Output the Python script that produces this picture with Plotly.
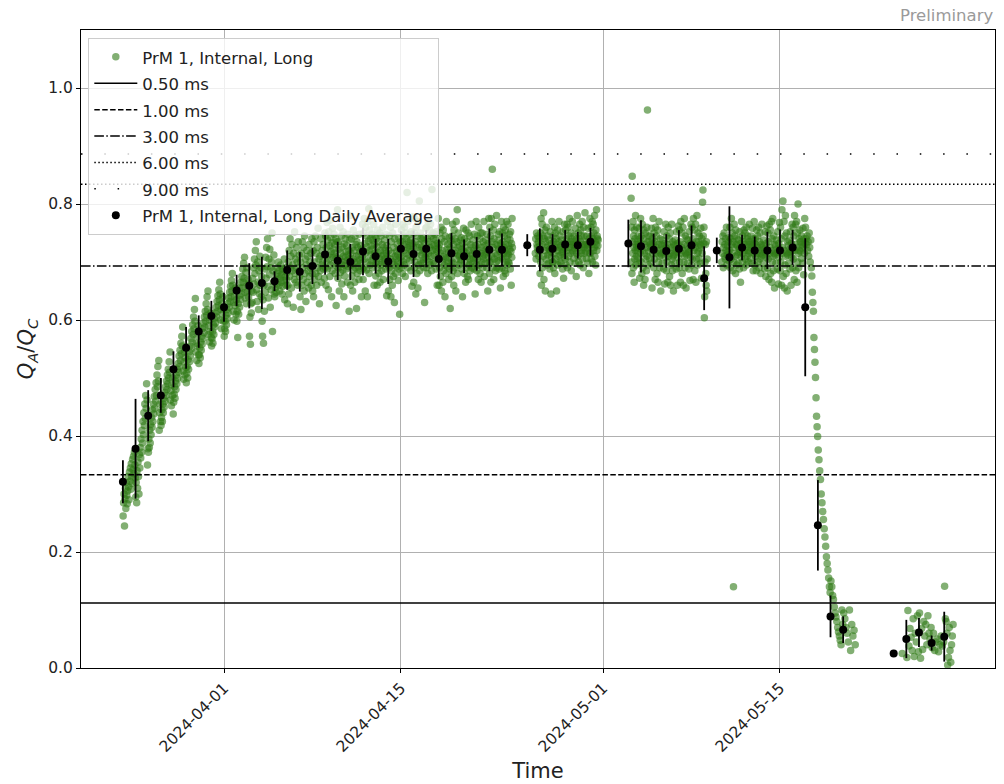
import pandas as pd
import plotly.graph_objects as go

# ---------------- data ----------------
REF_DATE = "2024-04-01"   # day offsets below are counted from this date

# green single measurements, grouped by day (values x1000), in time order within each day
green_days = [-8, -7, -6, -5, -4, -3, -2, -1, 0, 1, 2, 3, 4, 5, 6, 7, 8, 9, 10, 11, 12, 13, 14, 15,
              16, 17, 18, 19, 20, 21, 22, 24, 25, 26, 27, 28, 29, 32, 33, 34, 35, 36, 37, 38,
              39, 40, 41, 42, 43, 44, 45, 46, 47, 48, 49, 53, 54, 55, 56, 57]
green_vals_milli = [
    [262, 285, 300, 245, 292, 310, 275, 320, 298, 283, 305, 330, 312, 290, 338, 322, 345, 308, 352, 330, 318, 360, 342, 365, 335, 372, 350, 328],
    [295, 320, 285, 340, 310, 355, 330, 300, 368, 345, 380, 362, 395, 372, 410, 388, 425, 402, 440, 418, 455, 430, 470, 448, 490, 462, 350, 378],
    [372, 395, 380, 410, 388, 420, 402, 432, 415, 445, 425, 455, 438, 468, 448, 480, 460, 492, 470, 505, 485, 520, 495, 530, 410, 440, 455, 425],
    [418, 432, 445, 425, 455, 440, 465, 450, 475, 460, 485, 470, 495, 480, 505, 490, 515, 500, 528, 510, 545, 462, 478, 452, 488, 470, 500, 438],
    [458, 472, 485, 465, 495, 480, 505, 490, 515, 500, 525, 510, 538, 520, 548, 530, 560, 542, 572, 555, 588, 512, 498, 528, 545, 505, 535, 518],
    [492, 508, 520, 500, 532, 515, 545, 528, 555, 538, 568, 550, 580, 562, 592, 575, 605, 585, 618, 598, 637, 545, 560, 530, 572, 555, 590, 540],
    [525, 540, 552, 535, 562, 548, 572, 558, 585, 568, 595, 578, 605, 588, 615, 598, 628, 608, 640, 618, 650, 575, 590, 562, 600, 580, 612, 570],
    [555, 568, 580, 560, 592, 575, 602, 588, 612, 595, 622, 605, 632, 615, 642, 625, 652, 635, 665, 645, 600, 618, 585, 628, 610, 640, 598, 620],
    [572, 585, 598, 580, 608, 592, 618, 602, 628, 612, 638, 622, 648, 632, 658, 640, 668, 650, 680, 660, 615, 630, 600, 642, 625, 655, 610, 635],
    [598, 615, 570, 628, 610, 642, 622, 655, 635, 665, 645, 675, 655, 688, 665, 698, 672, 708, 648, 638, 682, 628, 690, 660, 650, 670, 640, 662],
    [572, 605, 558, 628, 612, 650, 630, 672, 648, 690, 662, 705, 680, 720, 695, 735, 652, 632, 700, 665, 618, 685, 645, 710, 660, 690, 640, 675],
    [598, 572, 635, 560, 660, 615, 688, 648, 708, 672, 725, 692, 740, 658, 638, 705, 678, 722, 622, 690, 652, 700, 750, 580, 685, 665, 712, 645],
    [640, 655, 670, 648, 680, 662, 690, 675, 700, 660, 685, 650, 672, 695, 665, 678, 645, 688, 658, 683, 668, 705, 635, 675, 690, 660, 670, 682],
    [628, 660, 700, 645, 720, 675, 740, 690, 710, 655, 730, 685, 695, 622, 715, 670, 752, 680, 705, 665, 725, 690, 700, 660, 735, 685, 712, 675],
    [640, 700, 618, 715, 660, 735, 690, 670, 725, 650, 745, 680, 705, 632, 695, 720, 665, 710, 685, 655, 730, 675, 700, 690, 715, 660, 740, 680],
    [650, 720, 640, 735, 670, 700, 745, 680, 715, 660, 725, 690, 758, 675, 705, 628, 710, 685, 740, 665, 695, 720, 700, 730, 688, 712, 672, 750],
    [690, 745, 660, 725, 700, 768, 688, 738, 712, 652, 752, 705, 728, 675, 772, 695, 742, 718, 640, 733, 685, 758, 708, 722, 698, 748, 715, 730, 680, 710, 740, 625, 705, 735, 692, 790],
    [672, 735, 690, 722, 650, 705, 760, 682, 715, 696, 745, 662, 726, 700, 686, 752, 710, 640, 731, 676, 695, 740, 708, 718, 688, 728, 702, 665, 748, 712, 692, 720, 615, 705, 738, 780],
    [660, 715, 695, 740, 676, 725, 650, 705, 755, 686, 720, 700, 665, 745, 690, 730, 710, 620, 735, 680, 700, 725, 692, 712, 670, 748, 704, 718, 685, 728, 698, 640, 722, 708, 765, 688],
    [670, 750, 690, 775, 705, 732, 650, 760, 716, 686, 745, 726, 640, 770, 700, 736, 792, 680, 720, 755, 695, 740, 712, 728, 702, 748, 722, 690, 738, 708, 765, 660, 730, 715, 745, 698],
    [676, 740, 700, 726, 660, 755, 690, 716, 735, 680, 706, 750, 665, 720, 695, 745, 710, 685, 730, 700, 760, 670, 712, 725, 698, 738, 705, 720, 688, 748, 715, 642, 728, 708, 770, 695],
    [650, 720, 690, 745, 670, 705, 760, 640, 735, 685, 715, 660, 750, 700, 675, 725, 695, 630, 740, 710, 680, 765, 705, 718, 692, 730, 700, 712, 668, 742, 688, 722, 610, 708, 735, 698],
    [690, 755, 710, 735, 680, 765, 700, 745, 720, 695, 760, 730, 675, 750, 715, 740, 705, 820, 725, 690, 770, 735, 712, 728, 702, 748, 722, 738, 685, 752, 718, 658, 732, 708, 778, 726],
    [665, 750, 690, 775, 700, 735, 645, 760, 710, 680, 745, 725, 655, 770, 695, 730, 805, 685, 720, 750, 700, 740, 712, 726, 698, 738, 716, 704, 742, 690, 722, 630, 732, 708, 758, 715],
    [690, 760, 705, 740, 680, 770, 715, 735, 700, 755, 725, 695, 765, 710, 745, 685, 825, 730, 720, 750, 700, 740, 712, 728, 698, 748, 722, 738, 688, 752, 718, 660, 732, 708, 775, 724],
    [660, 730, 690, 750, 675, 715, 760, 650, 740, 700, 720, 665, 755, 685, 710, 735, 695, 640, 745, 705, 680, 770, 708, 722, 692, 730, 700, 716, 670, 742, 688, 725, 620, 712, 736, 698],
    [675, 745, 700, 765, 685, 730, 660, 755, 715, 690, 740, 720, 650, 770, 705, 735, 790, 680, 725, 750, 695, 710, 712, 728, 698, 738, 716, 704, 742, 688, 722, 640, 732, 708, 758, 718],
    [680, 740, 700, 725, 665, 755, 690, 715, 735, 675, 710, 750, 670, 720, 695, 745, 705, 685, 730, 700, 765, 690, 712, 725, 698, 738, 706, 720, 688, 748, 715, 645, 728, 708, 770, 695],
    [685, 745, 705, 730, 670, 760, 695, 720, 740, 680, 715, 750, 665, 725, 700, 750, 710, 690, 735, 705, 770, 675, 712, 728, 698, 738, 716, 722, 690, 748, 718, 650, 732, 708, 775, 700],
    [680, 760, 700, 745, 665, 775, 710, 735, 860, 690, 725, 755, 670, 740, 705, 765, 715, 685, 730, 700, 780, 690, 712, 728, 702, 748, 722, 738, 688, 752, 718, 655, 732, 708, 770, 724],
    [690, 750, 705, 735, 675, 760, 715, 725, 745, 685, 720, 755, 680, 730, 700, 770, 710, 695, 740, 715, 765, 700, 712, 728, 698, 748, 722, 738, 688, 752, 718, 660, 732, 708, 775, 725],
    [715, 740, 705, 750, 730, 725, 745, 720, 735, 710, 742, 728],
    [680, 750, 700, 775, 660, 730, 765, 690, 745, 710, 785, 670, 740, 720, 755, 650, 735, 705, 760, 725, 695, 745, 712, 728, 698, 738, 716, 722, 688, 752, 718, 645, 732, 708, 770, 700],
    [700, 745, 690, 735, 715, 760, 680, 725, 750, 705, 740, 650, 730, 720, 755, 695, 735, 710, 770, 725, 700, 745, 712, 728, 698, 738, 716, 722, 688, 752, 718, 672, 732, 708, 765, 724],
    [705, 755, 695, 740, 720, 765, 690, 730, 760, 710, 745, 725, 775, 700, 735, 715, 750, 685, 740, 730, 770, 720, 718, 735, 706, 745, 724, 730, 698, 758, 728, 675, 740, 715, 780, 732],
    [710, 750, 700, 740, 725, 765, 695, 735, 755, 715, 745, 720, 770, 705, 730, 690, 760, 725, 745, 715, 785, 730, 718, 735, 706, 745, 724, 730, 698, 758, 728, 680, 740, 715, 775, 732],
    [715, 760, 705, 745, 730, 770, 700, 740, 765, 720, 750, 725, 780, 710, 735, 695, 755, 730, 790, 720, 745, 740, 728, 738],
    [810, 700, 760, 680, 848, 735, 715, 770, 690, 745, 725, 665, 755, 705, 740, 720, 780, 695, 730, 710, 760, 725, 718, 735, 706, 745, 724, 730, 698, 758, 728, 672, 740, 715, 775, 732],
    [700, 745, 680, 765, 720, 690, 740, 660, 755, 715, 730, 670, 750, 705, 725, 685, 760, 710, 962, 735, 695, 745, 718, 735, 706, 745, 724, 730, 698, 758, 728, 655, 740, 715, 775, 732],
    [690, 750, 705, 735, 670, 760, 715, 725, 745, 680, 720, 755, 665, 730, 700, 770, 710, 690, 740, 715, 650, 730, 712, 728, 698, 738, 716, 722, 688, 752, 718, 662, 732, 708, 765, 724],
    [685, 745, 700, 730, 665, 760, 710, 720, 740, 675, 715, 750, 660, 725, 695, 765, 705, 685, 735, 710, 650, 730, 712, 728, 698, 738, 716, 722, 688, 752, 718, 660, 732, 708, 762, 720],
    [690, 755, 700, 735, 665, 770, 715, 725, 750, 680, 720, 760, 660, 730, 700, 775, 710, 690, 745, 715, 655, 740, 712, 728, 698, 738, 716, 722, 688, 752, 718, 668, 732, 708, 765, 726],
    [695, 760, 705, 740, 670, 775, 720, 730, 755, 685, 725, 765, 665, 735, 705, 780, 715, 695, 750, 718, 735, 706, 745, 724, 730, 698, 758, 728, 672, 740, 715, 803, 824, 745, 732, 760],
    [604, 640, 700, 730, 680, 660, 735, 650, 705],
    [700, 735, 715, 745, 690, 725, 750, 710, 730, 705, 740, 720, 760, 695, 712, 728, 718, 735, 702, 742],
    [720, 760, 690, 740, 705, 775, 730, 715, 750, 685, 735, 140, 700, 765, 725, 745, 710, 680, 755, 730, 695, 740, 712, 728, 698, 738, 716, 722, 688, 752, 718, 665, 732, 708, 770, 724],
    [700, 745, 715, 735, 690, 755, 720, 730, 750, 705, 725, 760, 695, 740, 710, 745, 720, 700, 735, 715, 765, 730, 718, 735, 706, 745, 724, 730, 698, 758, 728, 685, 740, 715, 770, 732],
    [695, 740, 710, 730, 685, 755, 715, 725, 745, 700, 720, 760, 690, 735, 705, 750, 715, 680, 730, 710, 765, 725, 712, 728, 698, 738, 716, 722, 688, 752, 718, 675, 732, 708, 762, 720],
    [690, 750, 705, 735, 670, 765, 715, 725, 755, 680, 720, 770, 665, 740, 700, 775, 710, 685, 745, 715, 655, 730, 712, 728, 698, 738, 716, 722, 688, 752, 718, 662, 732, 708, 768, 722],
    [685, 760, 700, 740, 660, 790, 715, 725, 805, 675, 720, 770, 655, 745, 695, 780, 710, 680, 750, 715, 650, 735, 712, 728, 698, 738, 716, 722, 688, 752, 718, 660, 732, 708, 765, 720],
    [690, 760, 705, 745, 670, 780, 720, 730, 765, 685, 725, 770, 665, 750, 700, 800, 715, 690, 740, 720, 755, 735, 718, 735, 706, 745, 724, 730, 698, 758, 728, 678, 740, 715, 775, 732],
    [760, 740, 730, 745, 720, 735, 710, 750, 725, 700, 738, 690, 676, 648, 630, 615, 570, 549, 527, 501, 466, 434, 416, 399],
    [376, 359, 340, 325, 300, 285, 270, 256, 240, 226, 210, 192, 180, 169, 155, 140, 130],
    [150, 140, 125, 118, 105, 95, 88, 80, 70, 62, 55, 48, 40, 100, 75],
    [95, 85, 70, 60, 45, 100, 30, 75, 55, 65, 40],
    [25],
    [18, 99, 38, 68, 53, 30, 85, 20, 60, 45, 90, 28],
    [95, 17, 68, 32, 80, 55, 75, 40, 90, 60, 50, 70],
    [35, 60, 30, 45, 50, 28, 40, 55, 38, 45],
    [141, 85, 80, 60, 5, 18, 70, 30, 10, 40, 55, 75],
]
# measurement window (hours of the day) for days that were only partly covered
partial_day_hours = {22: (0, 20), 24: (15, 24), 29: (0, 15), 32: (5, 24), 38: (0, 6),
                     39: (9, 24), 53: (16, 16.5), 57: (0, 17.5)}

# daily averages (plotted at the start of each day) and their standard deviations
avg_days = [-8, -7, -6, -5, -4, -3, -2, -1, 0, 1, 2, 3, 4, 5, 6, 7, 8, 9, 10, 11, 12, 13, 14, 15,
            16, 17, 18, 19, 20, 21, 22, 24, 25, 26, 27, 28, 29, 32, 33, 34, 35, 36, 37, 38,
            39, 40, 41, 42, 43, 44, 45, 46, 47, 48, 49, 53, 54, 55, 56, 57]
avg_values = [0.321, 0.378, 0.435, 0.470, 0.515, 0.552, 0.580, 0.607, 0.622, 0.651, 0.659, 0.664,
              0.667, 0.686, 0.683, 0.693, 0.713, 0.702, 0.700, 0.718, 0.710, 0.701, 0.723, 0.714,
              0.723, 0.705, 0.715, 0.710, 0.714, 0.721, 0.721,
              0.729, 0.721, 0.723, 0.730, 0.729, 0.735,
              0.732, 0.727, 0.721, 0.719, 0.723, 0.729, 0.672, 0.720, 0.708, 0.725, 0.720, 0.720,
              0.720, 0.725, 0.622, 0.246, 0.089, 0.066,
              0.025, 0.050, 0.061, 0.043, 0.054]
avg_std = [0.037, 0.086, 0.044, 0.030, 0.031, 0.036, 0.028, 0.026, 0.025, 0.027, 0.039, 0.045,
           0.017, 0.034, 0.034, 0.031, 0.035, 0.033, 0.031, 0.041, 0.030, 0.039, 0.030, 0.040,
           0.032, 0.034, 0.035, 0.029, 0.029, 0.037, 0.028,
           0.019, 0.037, 0.025, 0.025, 0.023, 0.024,
           0.041, 0.045, 0.028, 0.029, 0.032, 0.034, 0.055, 0.022, 0.088, 0.022, 0.024, 0.032,
           0.036, 0.030, 0.119, 0.078, 0.036, 0.023,
           0.0, 0.033, 0.025, 0.013, 0.043]

# reference lines
ref_labels = ["0.50 ms", "1.00 ms", "3.00 ms", "6.00 ms", "9.00 ms"]
ref_values = [0.112, 0.333, 0.693, 0.834, 0.886]

x_tick_dates = ["2024-04-01", "2024-04-15", "2024-05-01", "2024-05-15"]
y_tick_values = [0.0, 0.2, 0.4, 0.6, 0.8, 1.0]

# ---------------- build ----------------
ref = pd.Timestamp(REF_DATE)
gx, gy = [], []
for d, vals in zip(green_days, green_vals_milli):
    h0, h1 = partial_day_hours.get(d, (0, 24))
    n = len(vals)
    for i, v in enumerate(vals):
        gx.append(ref + pd.Timedelta(days=d) + pd.Timedelta(hours=h0 + (h1 - h0) * (i + 0.5) / n))
        gy.append(v / 1000.0)

avg_x = [ref + pd.Timedelta(days=d) for d in avg_days]

FONT = "DejaVu Sans"
TXT = "#222222"
LEG = '<span style="font-size:16.5px">{}</span>'

fig = go.Figure()
fig.add_trace(go.Scatter(
    x=gx, y=gy, mode="markers", name=LEG.format("PrM 1, Internal, Long"),
    marker=dict(size=7.5, color="rgb(47,122,22)", opacity=0.6, line=dict(width=0)),
    legendrank=1,
))
fig.add_trace(go.Scatter(
    x=avg_x, y=avg_values, mode="markers", name=LEG.format("PrM 1, Internal, Long Daily Average"),
    marker=dict(size=8, color="black"),
    error_y=dict(type="data", array=avg_std, visible=True, thickness=1.8, width=0, color="black"),
    legendrank=10,
))

ref_dashes = ["solid", "5.5px,2.4px", "9.6px,2.4px,1.5px,2.4px", "1.5px,2.5px", "1.5px,21.8px"]
for k, (lab, val, dash) in enumerate(zip(ref_labels, ref_values, ref_dashes)):
    fig.add_hline(y=val, line=dict(color="black", width=1.5, dash=dash),
                  showlegend=True, name=LEG.format(lab), legendrank=2 + k)

fig.add_annotation(text="Preliminary", xref="paper", yref="paper", x=1.0, y=1.022,
                   xanchor="right", yanchor="middle", showarrow=False,
                   font=dict(family=FONT, size=16.5, color="#9a9a9a"))

fig.update_layout(
    width=1004, height=784,
    margin=dict(l=81, r=9, t=30, b=116),
    paper_bgcolor="white", plot_bgcolor="white",
    font=dict(family=FONT, size=15, color=TXT),
    showlegend=True,
    legend=dict(x=0.008, y=0.988, xanchor="left", yanchor="top",
                bgcolor="rgba(255,255,255,0.8)", bordercolor="#cccccc", borderwidth=1,
                font=dict(family=FONT, size=18, color=TXT), itemwidth=43,
                traceorder="normal"),
    xaxis=dict(
        type="date", automargin=False,
        range=["2024-03-20 16:24", "2024-06-01 00:25"],
        tickvals=x_tick_dates, tickformat="%Y-%m-%d", tickangle=-45,
        showgrid=True, gridcolor="#b0b0b0", gridwidth=0.8,
        showline=True, mirror=True, linecolor="black", linewidth=1,
        ticks="outside", ticklen=4, tickcolor="black",
        tickfont=dict(family=FONT, size=15.5, color=TXT),
        title=dict(text="Time", font=dict(family=FONT, size=21, color=TXT), standoff=8),
        zeroline=False,
    ),
    yaxis=dict(
        automargin=False,
        range=[0, 1.1],
        tickvals=y_tick_values, tickformat=".1f",
        showgrid=True, gridcolor="#b0b0b0", gridwidth=0.8,
        showline=True, mirror=True, linecolor="black", linewidth=1,
        ticks="outside", ticklen=4, tickcolor="black",
        tickfont=dict(family=FONT, size=15.5, color=TXT),
        title=dict(text="<i>Q</i><sub><i>A</i></sub>/<i>Q</i><sub><i>C</i></sub>",
                   font=dict(family=FONT, size=21, color=TXT), standoff=8),
        zeroline=False,
    ),
)

fig.write_html("out.html")
